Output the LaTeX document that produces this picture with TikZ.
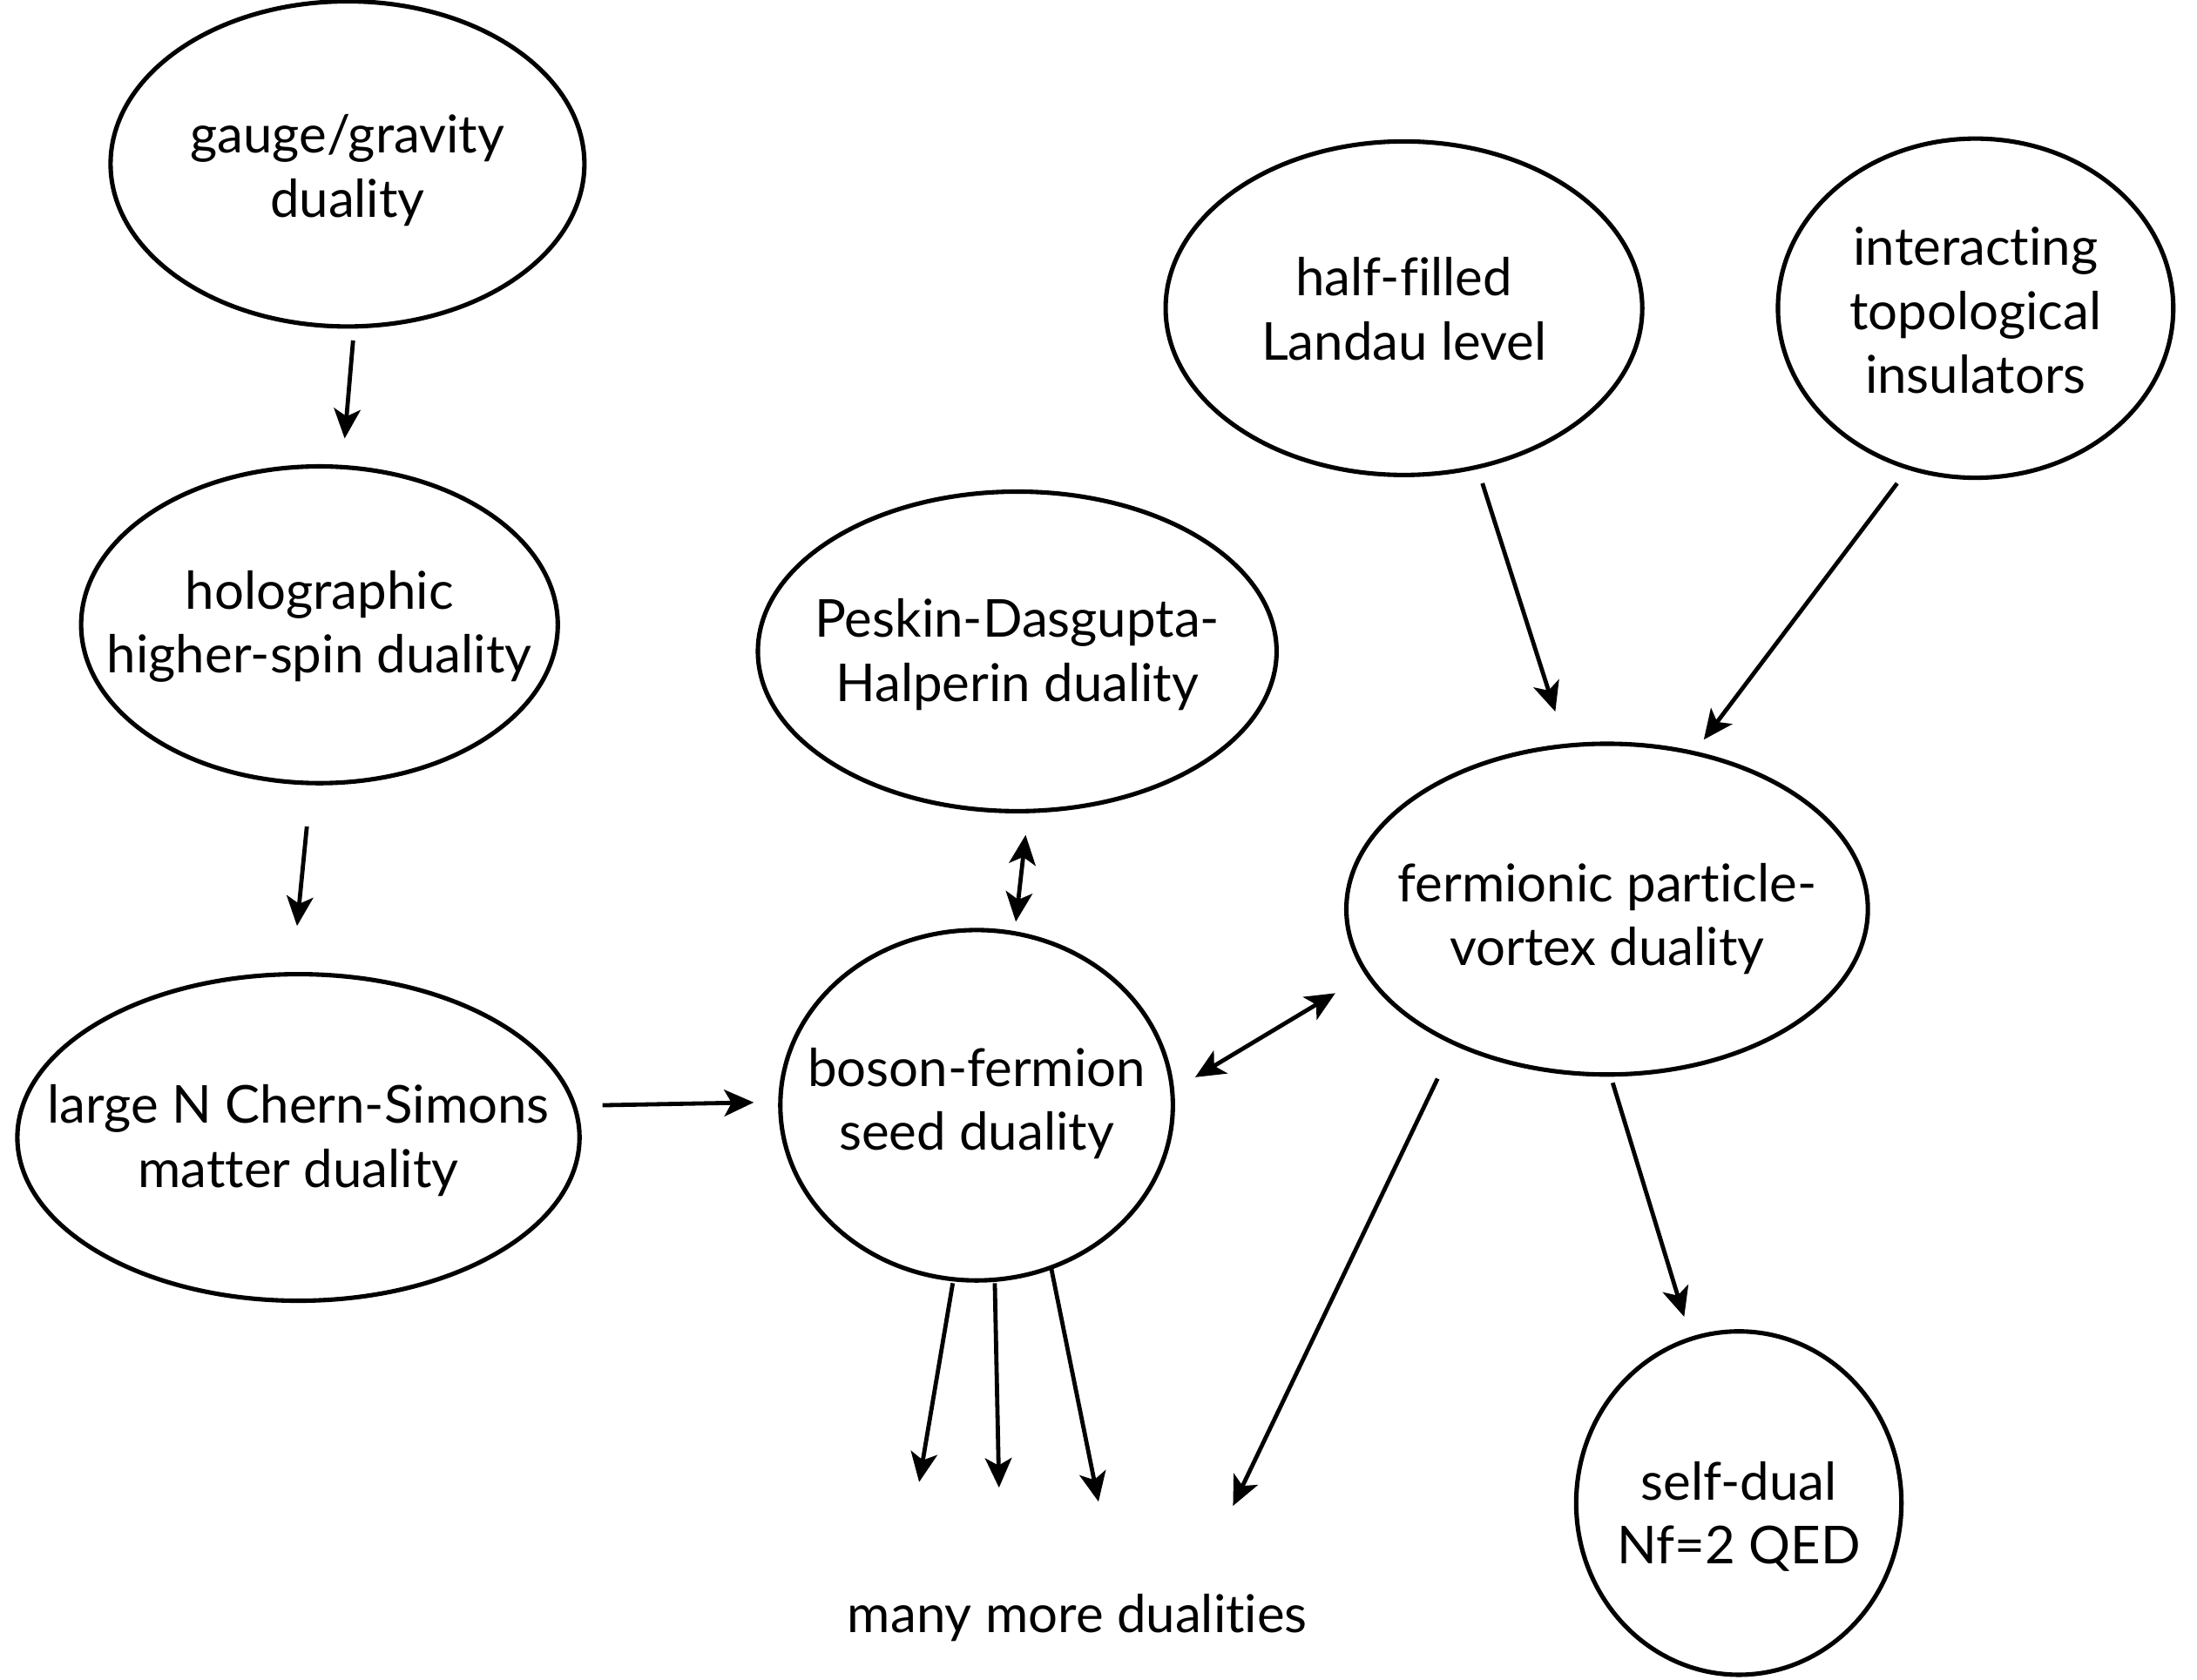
\documentclass[tikz,border=0pt]{standalone}
\usepackage{fontspec}
\setmainfont{Lato}[Ligatures=NoCommon]
\usetikzlibrary{shapes.geometric,arrows.meta,calc}
\newcommand{\bubtext}[2]{\makebox[0pt][c]{\raisebox{#1}[0pt][0pt]{\begin{tabular}[t]{@{}c@{}}#2\end{tabular}}}}
\tikzset{
  bubble/.style={ellipse, draw, line width=0.9pt, inner sep=0pt, outer sep=0pt,
    font=\fontsize{10.6}{13}\selectfont},
  conn/.style={line width=0.85pt, -{Stealth[length=6pt,width=5.4pt,inset=1.5pt]}},
  both/.style={line width=0.85pt, {Stealth[length=6pt,width=5.4pt,inset=1.5pt]}-{Stealth[length=6pt,width=5.4pt,inset=1.5pt]}}
}
\begin{document}
\begin{tikzpicture}[x=0.01cm,y=-0.01cm]
\useasboundingbox (0,0) rectangle (1568,1199);
\node[bubble, minimum width=33.8mm, minimum height=23.2mm] (gauge) at (248,117) {\bubtext{2.2pt}{gauge/gravity\\duality}};
\node[bubble, minimum width=34mm, minimum height=22.6mm] (holo) at (228,446) {\bubtext{3.2pt}{holographic\\higher-spin duality}};
\node[bubble, minimum width=40.1mm, minimum height=23.3mm] (largeN) at (213,812) {\bubtext{2.9pt}{large N Chern-Simons\\matter duality}};
\node[bubble, minimum width=37mm, minimum height=22.8mm] (peskin) at (726,465) {\bubtext{2.9pt}{Peskin-Dasgupta-\\Halperin duality}};
\node[bubble, minimum width=28mm, minimum height=25mm] (boson) at (697,789) {\bubtext{3.9pt}{boson-fermion\\seed duality}};
\node[bubble, minimum width=34mm, minimum height=23.8mm] (half) at (1002,220) {\bubtext{2.5pt}{half-filled\\Landau level}};
\node[bubble, minimum width=28.2mm, minimum height=24.2mm] (inter) at (1410,220) {\bubtext{8.7pt}{interacting\\topological\\insulators}};
\node[bubble, minimum width=37.2mm, minimum height=23.6mm] (ferm) at (1147,649) {\bubtext{1.5pt}{fermionic particle-\\vortex duality}};
\node[bubble, minimum width=23.2mm, minimum height=24.5mm] (self) at (1241,1073) {\bubtext{0.6pt}{self-dual\\Nf=2 QED}};
\node[font=\fontsize{10.6}{13}\selectfont] (many) at (769,1155) {many more dualities};

\draw[conn] ($(gauge)+(4,126)$) -- ($(holo)+(18,-133)$);
\draw[conn] ($(holo)+(-9,144)$) -- ($(largeN)+(-1,-151)$);
\draw[conn] ($(largeN)+(217,-23)$) -- ($(boson)+(-159,-2)$);
\draw[both] ($(peskin)+(6,131)$) -- ($(boson)+(28,-131)$);
\draw[both] ($(boson)+(156,-20)$) -- ($(ferm)+(-194,60)$);
\draw[conn] ($(half)+(56,125)$) -- ($(ferm)+(-37,-141)$);
\draw[conn] ($(inter)+(-56,125)$) -- ($(ferm)+(69,-121)$);
\draw[conn] ($(ferm)+(4,124)$) -- ($(self)+(-39,-133)$);
\draw[conn] ($(ferm)+(-121,121)$) -- ($(many)+(111,-80)$);
\draw[conn] ($(boson)+(-17,127)$) -- ($(many)+(-113,-97)$);
\draw[conn] ($(boson)+(13,127)$) -- ($(many)+(-56,-93)$);
\draw[conn] ($(boson)+(53,115)$) -- ($(many)+(15,-83)$);
\end{tikzpicture}
\end{document}
